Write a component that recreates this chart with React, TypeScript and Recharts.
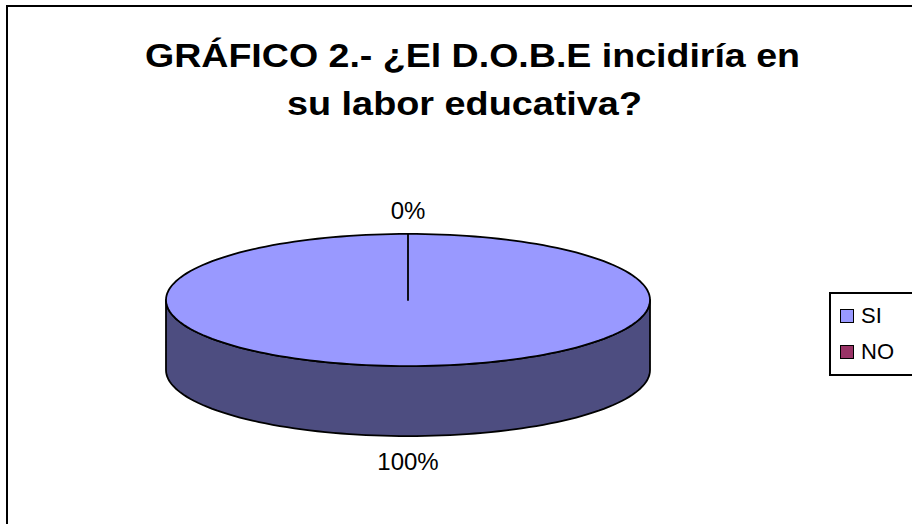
import React from "react";
import { PieChart, Pie, Cell, Legend } from "recharts";

// datos del gráfico
const categories = ["SI", "NO"];
const percentages = [100, 0];
const sliceColors = ["#9999FF", "#993366"];
const titleLines = ["GRÁFICO 2.- ¿El D.O.B.E incidiría en", "su labor educativa?"];

const data = categories.map((name, i) => ({ name, value: percentages[i] }));

const RAD = Math.PI / 180;
const TILT = 0.273; // ry / rx of the top ellipse
const DEPTH = 70; // height of the 3D wall
const FONT = '"Liberation Sans", Arial, sans-serif';

function darken(hex: string, k: number) {
    const n = parseInt(hex.slice(1), 16);
    const r = Math.round(((n >> 16) & 255) * k);
    const g = Math.round(((n >> 8) & 255) * k);
    const b = Math.round((n & 255) * k);
    return `rgb(${r},${g},${b})`;
}

/**
 * Slice3D
 * Dibuja un sector como "tarta 3D" al estilo Excel:
 * pared frontal oscura + cara superior elíptica.
 */
function Slice3D(props: any) {
    const { cx, cy, outerRadius, startAngle, endAngle, fill } = props;
    const lo = Math.min(startAngle, endAngle);
    const hi = Math.max(startAngle, endAngle);
    if (hi - lo < 0.01) return <g />;

    const rx = outerRadius;
    const ry = outerRadius * TILT;
    const pt = (a: number, dy = 0) => [
        cx + rx * Math.cos(a * RAD),
        cy - ry * Math.sin(a * RAD) + dy,
    ];

    let angles: number[] = [];
    const steps = Math.ceil((hi - lo) / 2);
    for (let i = 0; i <= steps; i++) angles.push(lo + ((hi - lo) * i) / steps);
    for (let k = Math.ceil(lo / 180); k * 180 < hi; k++) angles.push(k * 180);
    angles.sort((a, b) => a - b);
    angles = angles.filter((a, i) => i === 0 || a - angles[i - 1] > 1e-6);

    // tramos visibles de la pared (mitad frontal)
    const runs: number[][] = [];
    let cur: number[] = [];
    for (let i = 0; i < angles.length - 1; i++) {
        const mid = (angles[i] + angles[i + 1]) / 2;
        if (Math.sin(mid * RAD) < 0) {
            if (!cur.length) cur.push(angles[i]);
            cur.push(angles[i + 1]);
        } else if (cur.length) {
            runs.push(cur);
            cur = [];
        }
    }
    if (cur.length) runs.push(cur);

    const side = runs
        .map((run) => {
            const top = run.map((a) => pt(a));
            const bot = run
                .slice()
                .reverse()
                .map((a) => pt(a, DEPTH));
            return "M" + [...top, ...bot].map((p) => p.join(",")).join("L") + "Z";
        })
        .join(" ");
    const topPath =
        `M${cx},${cy}L` + angles.map((a) => pt(a).join(",")).join("L") + "Z";

    return (
        <g>
            {side && (
                <path
                    d={side}
                    fill={darken(fill, 0.5)}
                    stroke="#000"
                    strokeWidth={1.8}
                    strokeLinejoin="round"
                />
            )}
            <path
                d={topPath}
                fill={fill}
                stroke="#000"
                strokeWidth={1.8}
                strokeLinejoin="round"
            />
        </g>
    );
}

const renderLabel = (p: any) => {
    const { cx, cy, midAngle, outerRadius, percent } = p;
    const s = Math.sin(midAngle * RAD);
    const c = Math.cos(midAngle * RAD);
    const x = cx + (outerRadius + 20) * c;
    const y = cy - (outerRadius * TILT + 23) * s + (s < 0 ? DEPTH + 2 : 0);
    return (
        <text
            x={x}
            y={y}
            textAnchor="middle"
            dominantBaseline="central"
            fontSize={24}
            fontFamily={FONT}
            fill="#000"
        >
            {`${Math.round(percent * 100)}%`}
        </text>
    );
};

const renderLegend = (props: any) => {
    // mismo orden que las categorías (SI arriba, NO abajo)
    const payload = [...(props.payload || [])].sort(
        (a: any, b: any) => categories.indexOf(a.value) - categories.indexOf(b.value)
    );
    return (
        <div
            style={{
                border: "2px solid #000",
                background: "#fff",
                width: 90,
                height: 84,
                boxSizing: "border-box",
                paddingTop: 4,
                paddingLeft: 9,
                fontFamily: FONT,
            }}
        >
            {payload.map((entry: any) => (
                <div
                    key={entry.value}
                    style={{ display: "flex", alignItems: "center", height: 36 }}
                >
                    <span
                        style={{
                            width: 14,
                            height: 14,
                            boxSizing: "border-box",
                            border: "1.5px solid #000",
                            background: entry.color,
                            display: "inline-block",
                        }}
                    />
                    <span style={{ fontSize: 22, marginLeft: 7, color: "#000" }}>
                        {entry.value}
                    </span>
                </div>
            ))}
        </div>
    );
};

export default function App() {
    return (
        <div
            style={{
                position: "absolute",
                left: 0,
                top: 0,
                width: 912,
                height: 524,
                overflow: "hidden",
                background: "#fff",
            }}
        >
            {/* marco exterior del gráfico */}
            <div
                style={{
                    position: "absolute",
                    left: 6,
                    top: 5,
                    width: 1000,
                    height: 1000,
                    border: "2px solid #000",
                }}
            />
            <svg
                width={912}
                height={140}
                style={{ position: "absolute", left: 0, top: 0 }}
            >
                <text
                    x={145}
                    y={67}
                    fontSize={34}
                    fontWeight="bold"
                    fontFamily={FONT}
                    textLength={655}
                    lengthAdjust="spacingAndGlyphs"
                >
                    {titleLines[0]}
                </text>
                <text
                    x={287}
                    y={115}
                    fontSize={34}
                    fontWeight="bold"
                    fontFamily={FONT}
                    textLength={355}
                    lengthAdjust="spacingAndGlyphs"
                >
                    {titleLines[1]}
                </text>
            </svg>
            <div style={{ position: "absolute", left: 0, top: 0 }}>
                <PieChart
                    width={912}
                    height={524}
                    margin={{ top: 0, right: 0, bottom: 0, left: 0 }}
                >
                    <Pie
                        data={data}
                        dataKey="value"
                        nameKey="name"
                        cx={408}
                        cy={300}
                        outerRadius={242}
                        startAngle={90}
                        endAngle={-270}
                        label={renderLabel}
                        labelLine={false}
                        shape={Slice3D}
                        isAnimationActive={false}
                    >
                        {data.map((d, i) => (
                            <Cell key={d.name} fill={sliceColors[i]} />
                        ))}
                    </Pie>
                    <Legend
                        content={renderLegend}
                        wrapperStyle={{
                            position: "absolute",
                            left: 829,
                            top: 292,
                            width: 90,
                        }}
                    />
                </PieChart>
            </div>
        </div>
    );
}
